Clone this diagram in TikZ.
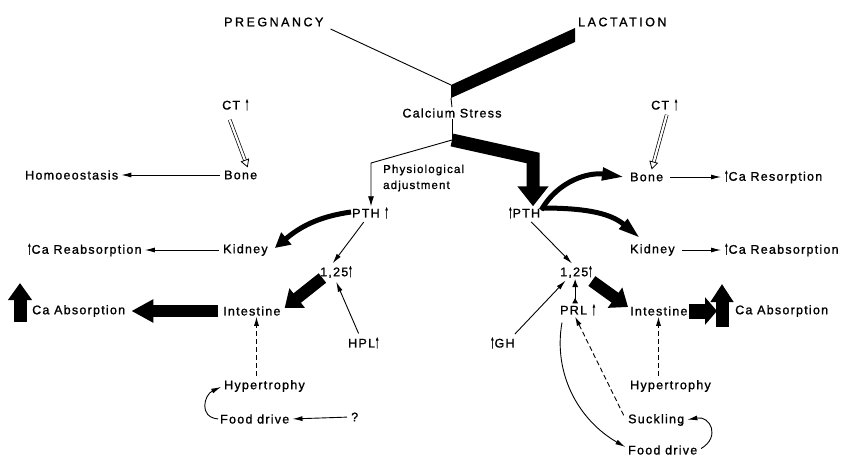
\documentclass[tikz,border=0pt]{standalone}
\usepackage{fontspec}
\usepackage{graphicx}
\usetikzlibrary{arrows.meta}
\newfontfamily\lfont[LetterSpace=10,FakeBold=1.2]{Liberation Sans}
\newfontfamily\capfont[LetterSpace=20,FakeBold=1.2]{Liberation Sans}
\newcommand\myup{\raisebox{-0.5pt}{\scalebox{0.7}[1.5]{↑}}}
\begin{document}
\begin{tikzpicture}[x=1pt,y=-1pt,
  lbl/.style={inner sep=1pt, anchor=west, font=\lfont\fontsize{12.5}{14}\selectfont},
  caps/.style={inner sep=1pt, anchor=west, font=\capfont\fontsize{12.5}{14}\selectfont},
  thinline/.style={line width=0.9pt},
  thinarr/.style={line width=0.9pt, shorten <=3pt, shorten >=2pt, -{Latex[length=10pt,width=5pt]}},
  dasharr/.style={line width=0.9pt, dash pattern=on 5pt off 3pt, shorten <=3pt, -{Latex[length=9pt,width=5pt]}},
  curvearr/.style={line width=5pt, -{Triangle[length=15pt,width=15pt]}},
  spear/.style={line width=5pt, -{Triangle[length=22pt,width=12pt]}},
  fatarr/.style={line width=12pt, -{Triangle[length=16pt,width=24pt]}},
  ctarr/.style={line width=0.7pt, double=white, double distance=2.2pt, -{Triangle[open,length=8pt,width=9pt,line width=0.8pt]}}]
\useasboundingbox (0,0) rectangle (843,456);

% ---------- labels
\node[caps] (preg) at (223,22) {PREGNANCY};
\node[caps] (lact) at (577,22) {LACTATION};
\node[lbl, anchor=center] (cs) at (452,113) {Calcium Stress};
\node[lbl, align=left, font=\lfont\fontsize{11.5}{16}\selectfont] (phys) at (382,178) {Physiological\\adjustment};

\node[lbl] (ctL) at (221,105) {CT \myup};
\node[lbl] (boneL) at (223,175) {Bone};
\node[lbl] (homeo) at (24,175) {Homoeostasis};
\node[lbl] (pthL) at (351,213) {PTH \myup};
\node[lbl] (kidL) at (222,250) {Kidney};
\node[lbl] (reabL) at (26,250) {\myup Ca Reabsorption};
\node[lbl] (oneL) at (319,272) {1,25\myup};
\node[lbl] (intL) at (222,311) {Intestine};
\node[lbl] (absL) at (31,311) {Ca Absorption};
\node[lbl] (hpl) at (347,343) {HPL\myup};
\node[lbl] (hypL) at (223,386) {Hypertrophy};
\node[lbl] (foodL) at (219,419) {Food drive};
\node[lbl] (q) at (350,417) {?};

\node[lbl] (ctR) at (650,105) {CT \myup};
\node[lbl] (pthR) at (507,213) {\myup PTH};
\node[lbl] (boneR) at (629,177) {Bone};
\node[lbl] (resR) at (723,177) {\myup Ca Resorption};
\node[lbl] (kidR) at (629,250) {Kidney};
\node[lbl] (reabR) at (723,250) {\myup Ca Reabsorption};
\node[lbl] (oneR) at (559,272) {1,25\myup};
\node[lbl] (prl) at (559,310) {PRL \myup};
\node[lbl] (gh) at (489,343) {\myup GH};
\node[lbl] (intR) at (629,311) {Intestine};
\node[lbl] (absR) at (734,311) {Ca Absorption};
\node[lbl] (hypR) at (629,386) {Hypertrophy};
\node[lbl] (suck) at (627,420) {Suckling};
\node[lbl] (foodR) at (627,450) {Food drive};

% ---------- top: pregnancy / lactation -> calcium stress
\coordinate (J1) at (451,85);
\coordinate (J2) at (452,140);
\coordinate (J3) at (371,163);
\coordinate (J4) at (533,158);
\draw[thinline] ([shift={(6,7)}]preg.east) -- (J1);
\fill (J1) -- ([shift={(-2,6)}]lact.west) -- ([shift={(-2,20)}]lact.west) -- ([yshift=-13pt]J1) -- cycle;
\draw[thinline] ([yshift=-13pt]J1) -- (cs.north);
\draw[thinline] (cs.south) -- (J2);
\draw[thinline, -{Latex[length=10pt,width=6pt]}] (J2) -- (J3) -- (J3 |- pthL.north);
\draw[line width=13pt, line join=miter, -{Triangle[length=20pt,width=30pt]}] (J2) -- (J4) -- (J4 |- pthR.north);

% ---------- left (pregnancy) branch
\draw[ctarr] ([xshift=-6pt,yshift=-8pt]ctL.south) -- ([xshift=7pt,yshift=2pt]boneL.north);
\draw[thinarr] (boneL.west) -- (homeo.east);
\draw[curvearr] ([yshift=1pt]pthL.west) to[out=188, in=40] ([xshift=6pt,yshift=2pt]kidL.east);
\draw[thinarr] (kidL.west) -- (reabL.east);
\draw[thinarr] ([xshift=-5pt]pthL.south) -- ([xshift=-5pt]oneL.north);
\draw[fatarr] ([xshift=-14pt,yshift=1pt]oneL.south) -- ([xshift=3pt,yshift=3pt]intL.east);
\draw[line width=12pt, -{Triangle[length=22pt,width=22pt]}] ([xshift=-4pt]intL.west) -- ([xshift=5pt]absL.east);
\draw[line width=13pt, -{Triangle[length=17pt,width=23pt]}] ([xshift=-11pt,yshift=-11pt]absL.west) -- ([xshift=-11pt,yshift=28pt]absL.west);
\draw[thinarr] ([xshift=-4pt]hpl.north) -- ([xshift=-1pt,yshift=-1pt]oneL.south);
\draw[dasharr] ([xshift=-8pt]hypL.north) -- ([xshift=-8pt]hypL.north |- intL.south);
\draw[thinarr, shorten <=1pt] (foodL.west) to[out=175, in=205, looseness=1.6] (hypL.west);
\draw[thinarr] (q.west) -- (foodL.east);

% ---------- right (lactation) branch
\draw[ctarr] ([xshift=2pt,yshift=-3pt]ctR.south) -- ([xshift=5pt,yshift=2pt]boneR.north);
\draw[spear] ([yshift=3pt]pthR.east) to[out=60, in=172] ([xshift=-5pt]boneR.west);
\draw[spear] ([yshift=5pt]pthR.east) to[out=0, in=140] ([xshift=11pt,yshift=5pt]kidR.north west);
\draw[thinarr, shorten <=6pt] (boneR.east) -- (resR.west);
\draw[thinarr, shorten <=6pt] (kidR.east) -- (reabR.west);
\draw[thinarr] ([xshift=5pt]pthR.south) -- ([xshift=-3pt]oneR.north);
\draw[fatarr] ([xshift=-2pt,yshift=-2pt]oneR.south east) -- ([xshift=-1pt,yshift=4pt]intR.west);
\draw[line width=0.9pt, {Latex[reversed,length=6pt,width=6pt]}-{Latex[length=8pt,width=6pt]}] ([xshift=-3pt]prl.north) -- ([xshift=-3pt]prl.north |- oneR.south);
\draw[thinarr] ([xshift=-3pt]gh.north east) -- ([xshift=8pt]oneR.south west);
\draw[line width=15pt, -{Triangle[length=12pt,width=27pt]}] (intR.east) -- ([xshift=-17pt]absR.west);
\draw[line width=13pt, -{Triangle[length=18pt,width=22pt]}] ([xshift=-12pt,yshift=-16pt]absR.west) -- ([xshift=-12pt,yshift=27pt]absR.west);
\draw[dasharr] ([xshift=-12pt]hypR.north) -- ([xshift=-12pt]hypR.north |- intR.south);
\draw[dasharr] ([xshift=-2pt,yshift=2pt]suck.west) -- ([xshift=-3pt]prl.south);
\draw[thinarr, shorten <=6pt] ([xshift=4pt]prl.south west) to[out=260, in=150] ([yshift=2pt]foodR.west);
\draw[thinarr] (foodR.east) to[out=30, in=10, looseness=2] (suck.east);
\end{tikzpicture}
\end{document}
